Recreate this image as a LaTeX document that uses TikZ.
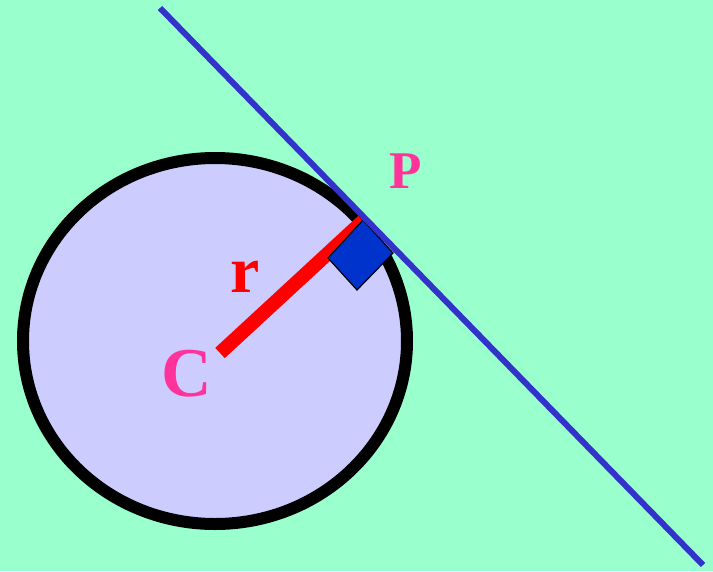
\documentclass[tikz,border=0pt]{standalone}
\usepackage{fontspec}
\setmainfont{Liberation Serif}
\usepackage{xcolor}
\usetikzlibrary{calc}
\definecolor{Mint}{HTML}{99FFCC}
\definecolor{Lilac}{HTML}{CCCCFF}
\definecolor{Tangent}{HTML}{3333CC}
\definecolor{Marker}{HTML}{0033CC}
\definecolor{Pink}{HTML}{FF3399}

\begin{document}
\begin{tikzpicture}[
  x=1pt,y=-1pt,
  disc/.style={draw=black,fill=Lilac,line width=12pt},
  radius line/.style={draw=red,line width=14pt},
  tangent/.style={draw=Tangent,line width=6pt},
  corner/.style={draw=black,fill=Marker,line width=1.2pt},
  point/.style={font=\bfseries\fontsize{#1}{#1}\selectfont,text=Pink,inner sep=0pt}
]
  \fill[Mint] (0,0) rectangle (713,571);
  \useasboundingbox (0,0) rectangle (713,571);
  \path[disc] (215,341) ellipse [x radius=192,y radius=183];
  \coordinate (centre) at (220,353);
  \coordinate (foot) at (363,221);
  \draw[radius line] (centre) -- (foot);
  \draw[corner] (363,220) -- (393,253) -- (357,290) -- (328,258) -- cycle;
  \coordinate (top) at (160,8);
  \coordinate (bottom) at (703,565);
  \draw[tangent] (top) -- (bottom);
  \node[point=70] (C) at (187,374) {C};
  \node[point=66,text=red] (r) at (245,277) {r};
  \node[point=53] (P) at (406,171) {P};
\end{tikzpicture}
\end{document}
